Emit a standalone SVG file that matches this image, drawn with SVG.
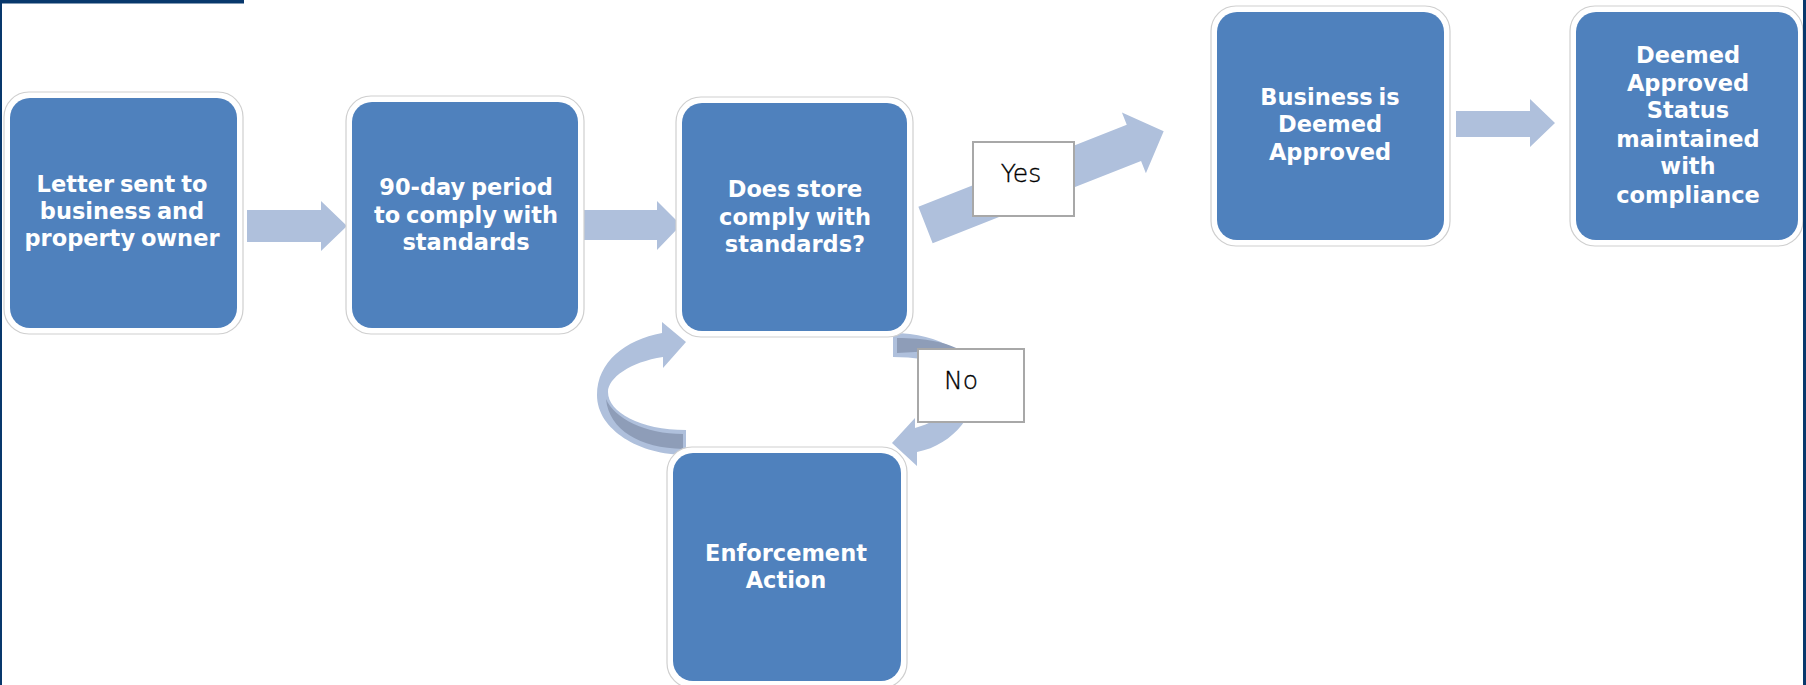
<svg xmlns="http://www.w3.org/2000/svg" width="1806" height="685" viewBox="0 0 1806 685">
<style>
.frame{fill:#ffffff;stroke:#cfcfcf;stroke-width:1.2}
.box{fill:#4f81bd}
.lbl{font-family:"DejaVu Sans","Verdana",sans-serif;font-weight:bold;font-size:22.5px;fill:#ffffff;text-anchor:middle;word-spacing:-2px}
.arr{fill:#afc0dc}
.dark{fill:#8e9db8}
.tag{fill:#ffffff;stroke:#a8a8a8;stroke-width:2}
.tagt{font-family:"DejaVu Sans",sans-serif;font-weight:200;font-size:25px;fill:#000000;stroke:#000000;stroke-width:0.35;text-anchor:middle}
</style>
<rect x="0" y="0" width="1806" height="685" fill="#ffffff"/>

<g id="connectors">
  <polygon class="arr" points="247,210 321,210 321,201 347,226 321,251 321,242 247,242"/>
  <polygon class="arr" points="584,210 657,210 657,201 681,225 657,250 657,240 584,240"/>
  <polygon class="arr" points="1456,111 1530,111 1530,99 1555,123 1530,147 1530,137 1456,137"/>
  <polygon class="arr" transform="translate(925.5,225) rotate(-21.5)" points="0,-19.5 224,-19.5 224,-32.7 256,0 224,32.7 224,19.5 0,19.5"/>
  <path class="arr" d="M686,455 C640,455 597,430 597,395 C597,362 625,340 662,333 L662,322 L686,342 L663,368 L663,357 C630,362 608,378 608,392 C608,412 640,430 686,430 Z"/>
  <path class="dark" d="M606,399 C614,418 645,434 683,434 L683,449 C640,448 609,430 606,399 Z"/>
  <path class="arr" d="M893,333 C940,333 975,355 977,385 C978,410 955,445 917,452 L917,466 L892,443 L915,418 L915,428 C945,420 962,400 962,385 C962,368 935,357 893,357 Z"/>
  <path class="dark" d="M897,338 C925,338 948,342 961,351 C940,350 920,352 897,353 Z"/>
  <g id="label-yes">
    <rect class="tag" x="973" y="142" width="101" height="74"/>
    <text class="tagt" x="1021" y="182">Yes</text>
  </g>
  <g id="label-no">
    <rect class="tag" x="918" y="349" width="106" height="73"/>
    <text class="tagt" x="961" y="389">No</text>
  </g>
</g>

<g id="node-letter">
  <rect class="frame" x="4" y="92" width="239" height="242" rx="25"/>
  <rect class="box" x="10" y="98" width="227" height="230" rx="20"/>
  <text class="lbl" x="122" y="192">Letter sent to</text>
  <text class="lbl" x="122" y="219">business and</text>
  <text class="lbl" x="122" y="246">property owner</text>
</g>

<g id="node-period">
  <rect class="frame" x="346" y="96" width="238" height="238" rx="25"/>
  <rect class="box" x="352" y="102" width="226" height="226" rx="20"/>
  <text class="lbl" x="466" y="195">90-day period</text>
  <text class="lbl" x="466" y="223">to comply with</text>
  <text class="lbl" x="466" y="250">standards</text>
</g>

<g id="node-comply">
  <rect class="frame" x="676" y="97" width="237" height="240" rx="25"/>
  <rect class="box" x="682" y="103" width="225" height="228" rx="20"/>
  <text class="lbl" x="795" y="197">Does store</text>
  <text class="lbl" x="795" y="225">comply with</text>
  <text class="lbl" x="795" y="252">standards?</text>
</g>

<g id="node-enforcement">
  <rect class="frame" x="667" y="447" width="240" height="241" rx="25"/>
  <rect class="box" x="673" y="453" width="228" height="228" rx="20"/>
  <text class="lbl" x="786" y="561">Enforcement</text>
  <text class="lbl" x="786" y="588">Action</text>
</g>

<g id="node-approved">
  <rect class="frame" x="1211" y="6" width="239" height="240" rx="25"/>
  <rect class="box" x="1217" y="12" width="227" height="228" rx="20"/>
  <text class="lbl" x="1330" y="105">Business is</text>
  <text class="lbl" x="1330" y="132">Deemed</text>
  <text class="lbl" x="1330" y="160">Approved</text>
</g>

<g id="node-maintained">
  <rect class="frame" x="1570" y="6" width="233" height="240" rx="25"/>
  <rect class="box" x="1576" y="12" width="222" height="228" rx="20"/>
  <text class="lbl" x="1688" y="63">Deemed</text>
  <text class="lbl" x="1688" y="91">Approved</text>
  <text class="lbl" x="1688" y="118">Status</text>
  <text class="lbl" x="1688" y="147">maintained</text>
  <text class="lbl" x="1688" y="174">with</text>
  <text class="lbl" x="1688" y="203">compliance</text>
</g>

<rect x="0" y="0" width="244" height="3.5" fill="#08386c"/>
<rect x="0" y="0" width="2" height="685" fill="#08386c"/>
<rect x="1803" y="0" width="3" height="685" fill="#08386c"/>
</svg>
